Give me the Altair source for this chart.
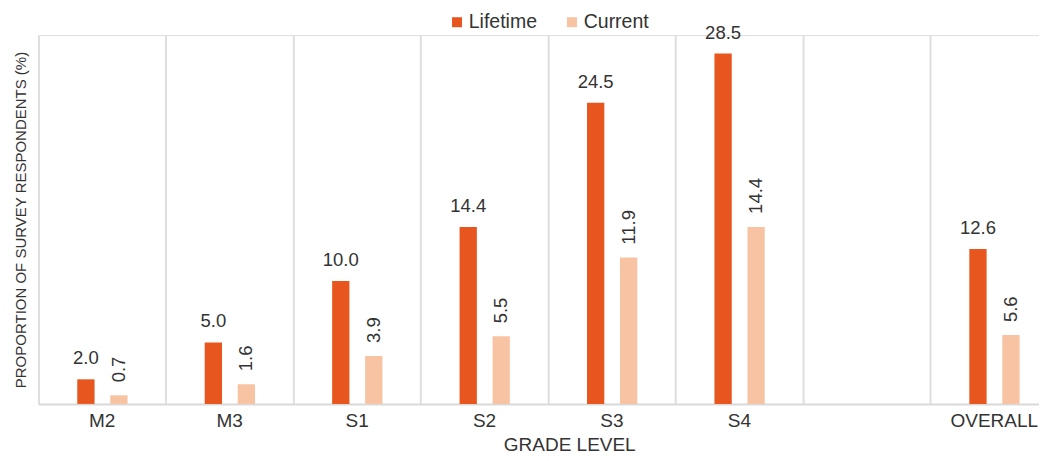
import altair as alt
import pandas as pd

grades = ["M2", "M3", "S1", "S2", "S3", "S4", "OVERALL"]
lifetime = [2.0, 5.0, 10.0, 14.4, 24.5, 28.5, 12.6]
current = [0.7, 1.6, 3.9, 5.5, 11.9, 14.4, 5.6]
x_domain = ["M2", "M3", "S1", "S2", "S3", "S4", " ", "OVERALL"]
series = ["Lifetime", "Current"]
colors = ["#E8561F", "#F8C3A2"]

rows = []
for g, l, c in zip(grades, lifetime, current):
    rows.append({"grade": g, "series": "Lifetime", "value": l})
    rows.append({"grade": g, "series": "Current", "value": c})
df = pd.DataFrame(rows)

FONT = "Liberation Sans"
TXT = "#333333"

x = alt.X(
    "grade:N",
    sort=x_domain,
    scale=alt.Scale(domain=x_domain, range=[0, 1020], paddingInner=0, paddingOuter=0),
    axis=alt.Axis(
        title="GRADE LEVEL", labelAngle=0, ticks=False, grid=True, bandPosition=0,
        gridColor="#dedede", gridWidth=2, domainColor="#d9d9d9", domainWidth=2,
        labelFontSize=19, labelColor=TXT, labelPadding=8, labelFont=FONT,
        titleFontSize=19, titleFontWeight="normal", titleColor=TXT, titlePadding=5,
        titleFont=FONT, titleX=531, titleAlign="center",
    ),
)
xo = alt.XOffset(
    "series:N",
    sort=series,
    scale=alt.Scale(domain=series, range=[38.8, 89.1], paddingInner=0.476, paddingOuter=0),
)
y = alt.Y(
    "value:Q",
    scale=alt.Scale(domain=[0, 30], nice=False),
    axis=alt.Axis(
        title="PROPORTION OF SURVEY RESPONDENTS (%)", labels=False, ticks=False,
        domain=False, grid=False, titleFontSize=15, titleFontWeight="normal",
        titleColor=TXT, titlePadding=10, titleFont=FONT,
    ),
)
color = alt.Color(
    "series:N",
    sort=series,
    scale=alt.Scale(domain=series, range=colors),
    legend=alt.Legend(
        title=None, orient="none", legendX=409, legendY=-23, direction="horizontal",
        symbolType="square", symbolSize=100, symbolStrokeWidth=0,
        labelFontSize=19.5, labelColor=TXT, labelFont=FONT, columnPadding=25,
        labelOffset=2,
    ),
)

base = alt.Chart(df).encode(x=x, xOffset=xo, y=y)

bars = base.mark_bar().encode(color=color)

life_text = base.transform_filter(alt.datum.series == "Lifetime").mark_text(
    baseline="alphabetic", dy=-15, fontSize=18.5, color=TXT, font=FONT
).encode(text=alt.Text("value:Q", format=".1f"))

cur_text = base.transform_filter(alt.datum.series == "Current").mark_text(
    angle=270, align="left", baseline="middle", dx=13, fontSize=18.5, color=TXT, font=FONT
).encode(text=alt.Text("value:Q", format=".1f"))

chart = (
    alt.layer(bars, life_text, cur_text)
    .properties(
        width=1001,
        height=369,
        autosize=alt.AutoSizeParams(type="none"),
        padding={"left": 30.5, "top": 27, "right": 0, "bottom": 57},
    )
    .configure_view(stroke=None)
    .configure(font=FONT)
)

chart.save("out.html", embed_options={"renderer": "svg", "actions": False})
